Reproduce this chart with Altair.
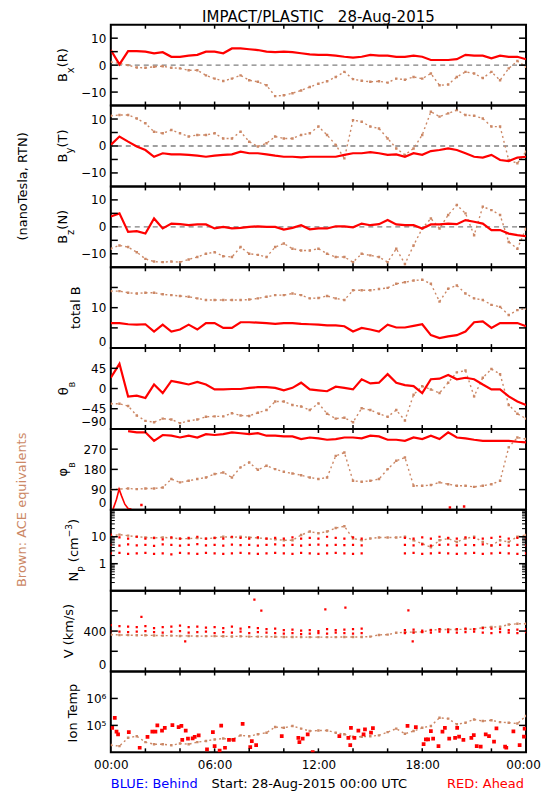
import altair as alt
import pandas as pd

# ---------------- data ----------------
TIME = [0, 0.5, 1, 1.5, 2, 2.5, 3, 3.5, 4, 4.5, 5, 5.5, 6, 6.5, 7, 7.5, 8, 8.5, 9, 9.5,
        10, 10.5, 11, 11.5, 12, 12.5, 13, 13.5, 14, 14.5, 15, 15.5, 16, 16.5, 17, 17.5,
        18, 18.5, 19, 19.5, 20, 20.5, 21, 21.5, 22, 22.5, 23, 23.5, 24]

BX_RED = [5.6, 0.3, 5.2, 5.2, 5.0, 4.4, 4.8, 3.1, 3.1, 3.5, 3.8, 5.0, 5.0, 4.4, 6.2, 6.2, 5.9, 5.6, 5.0, 4.8,
          5.0, 4.8, 4.4, 4.0, 3.8, 3.8, 3.5, 3.1, 2.8, 3.1, 3.8, 3.5, 3.5, 3.1, 3.1, 3.5, 3.1, 1.9, 1.9,
          1.9, 2.2, 3.8, 3.5, 3.5, 2.5, 3.5, 3.1, 3.1, 2.2]
BX_ACE = [1.2, 0.6, 0, -0.9, -1.0, -0.6, -0.4, -1.0, -1.2, -1.9, -1.9, -3.8, -5.0, -5.9, -5.0, -3.8, -5.6,
          -6.2, -7.5, -11.5, -11.2, -10.4, -9.4, -8.1, -6.9, -6.0, -4.4, -2.5, -5.2, -5.8, -6.2, -6.0, -6.5,
          -5.0, -5.4, -4.4, -5.0, -3.1, -7.5, -7.2, -4.4, -2.5, -3.1, -4.8, -2.5, -5.6, -1.2, 1.5, -0.6]

BY_RED = [0.4, 3.5, 1.6, -0.2, -1.5, -4.0, -2.7, -3.1, -3.1, -3.3, -3.6, -4.0, -3.6, -3.3, -3.1, -2.1, -2.7,
          -2.7, -3.1, -3.6, -4.0, -4.0, -4.2, -4.0, -4.0, -4.0, -4.0, -3.3, -2.7, -2.7, -2.3, -2.7, -3.3,
          -3.1, -4.0, -2.7, -3.3, -1.9, -1.5, -0.9, -1.5, -2.7, -4.0, -4.3, -3.3, -5.2, -5.6, -4.3, -4.0]
BY_ACE = [11.2, 11.5, 11.5, 10.2, 8.4, 5.3, 4.7, 5.9, 4.7, 3.5, 4.1, 4.1, 4.7, 2.8, 2.8, 5.3, 1.6, -0.2, 1.0,
          3.5, 2.8, 2.8, 4.1, 4.7, 7.2, 4.1, 0.4, -4.6, 9.6, 9.0, 7.2, 6.5, 2.8, -0.9, -3.3, -0.9, 4.1, 12.7,
          10.9, 12.1, 13.3, 11.5, 11.2, 10.2, 7.2, 7.2, -5.2, -6.4, -2.1]

BZ_RED = [3.8, 5.0, -1.9, -1.6, -2.5, 3.1, -0.6, 1.2, 1.0, 0.6, 0.9, 0.9, -0.6, 0, -0.6, -0.4, 0, 0.2, 0, 0,
          -1.0, -0.4, 0.6, -0.9, -0.6, -0.6, 0.2, 0.2, -0.2, 1.2, 0.6, 1.0, 2.5, 0.9, 0.6, 0.6, -0.6, 0.9,
          0.9, 1.2, 1.0, 2.5, 1.9, 1.2, -1.2, -1.2, -2.5, -3.1, -3.5]
BZ_ACE = [-8.1, -6.9, -7.5, -9.4, -11.9, -12.9, -13.1, -12.9, -13.1, -12.1, -11.2, -10.0, -9.4, -10.9, -11.2,
          -7.5, -10.0, -10.4, -11.2, -7.5, -6.2, -8.1, -8.8, -8.8, -8.1, -10.0, -11.2, -11.2, -13.1, -10.0,
          -10.6, -11.2, -13.1, -8.1, -13.8, -6.9, -0.6, 3.1, -0.6, 4.4, 8.1, 5.0, -3.1, 7.5, 6.2, 4.4, -5.6,
          -8.1, -0.6]

BT_RED = [6.2, 6.2, 5.9, 5.8, 5.9, 4.1, 5.8, 4.1, 4.6, 5.8, 4.6, 6.2, 6.2, 5.0, 5.0, 6.4, 6.4, 6.3, 6.2, 6.0,
          6.2, 6.2, 6.0, 5.9, 5.8, 5.6, 5.6, 5.4, 4.1, 5.0, 4.6, 4.1, 5.8, 5.1, 5.1, 5.5, 5.9, 3.2, 2.5, 2.9,
          3.2, 4.1, 6.4, 6.6, 5.0, 6.2, 6.2, 6.2, 5.4]
BT_ACE = [14.1, 14.1, 13.7, 13.5, 13.7, 13.7, 13.3, 13.1, 12.9, 12.7, 12.3, 11.9, 11.9, 11.9, 11.9, 11.9,
          12.0, 12.3, 12.7, 13.1, 13.1, 13.5, 13.1, 12.3, 12.4, 12.9, 12.3, 11.9, 14.3, 14.3, 14.3, 14.6,
          14.9, 15.9, 16.3, 16.7, 16.9, 15.9, 11.5, 14.7, 15.5, 13.5, 12.3, 11.9, 10.7, 10.2, 8.2, 9.4, 9.8]

TH_RED = [24, 55, -18, -16, -21, 9, -10, 17, 13, 9, 14.5, 9, -2, -2, -1, -1, 1.5, 3, 3, 1.5,
          -4, 1.5, 13, -2, -4, -6, 4, 1.5, -2, 20.6, 11.4, 13, 32, 13, 7.6, 5.3, -10, 20.6, 22, 30, 20.6,
          24, 20.6, 9, -2, -2, -17.5, -29, -36.6]
TH_ACE = [-34, -34, -39, -60, -72, -75, -67, -69, -77, -72, -69, -63, -62, -62, -55, -60, -61, -54, -48, -29,
          -29, -36.6, -40, -48, -33, -56, -67, -65, -75, -44, -48, -56, -63, -48, -71, -13.7, 5, -2, -10, 13,
          36, 40, -17.5, 24, 43.5, 32, -36.6, -56, -67]

PH_RED = [355, None, 350, 345, 345, 307, 333, 330, 322, 330, 322, 337, 333, 337, 345, 341, 337, 341, 330, 330,
          327, 327, 315, 322, 318, 312, 315, 322, 322, 318, 330, 327, 312, 312, 307, 322, 315, 330, 315, 345,
          322, 318, 312, 307, 307, 307, 307, 303, 300]
PH_RED_WRAP_T = [0.13, 0.33, 0.48, 0.62, 0.81, 1.0, 1.19]
PH_RED_WRAP_V = [3, 47, 92, 62, 25, 6, 3]
PH_RED_DOT_T = [1.77, 19.6, 20.42]
PH_RED_DOT_V = [21, 10, 15]
PH_ACE = [89, 92, 95, 92, 95, 95, 99, 137, 122, 129, 137, 144, 159, 166, 144, 189, 211, 178, 196, 181,
          169, 162, 154, 144, 137, 144, 240, 255, 129, 125, 129, 137, 181, 218, 233, 107, 107, 110, 122, 114,
          107, 107, 102, 107, 114, 129, 278, 322, 315]

NP_ACE = [10.5, 12, 11, 10, 9.5, 9, 9.5, 9, 8.5, 8.5, 9, 8.5, 9, 10, 9.5, 10, 9.5, 9, 8.5, 8,
          7.4, 7.4, 11.6, 15.6, 13.5, 15.6, 21, 24.5, 8.6, 7.4, 8.6, 9.4, 9.4, 9.4, 10, 7.4, 5.5, 4.1, 7.4,
          8.6, 6.4, 8.6, 10, 6.4, 4.7, 7.4, 6.4, 10, 11.6]
NP_RED_A = [12, 9.5, 8.5, 10, 8.6, 9, 8, 9.5, 8.6, 9, 10, 8.6, 9, 8.6, 10, 9, 8.6, 9.5, 8.6, 9, 8.6, 9.5,
            8.6, 9, 8.6, 10, 9, 8.6, 9.5, 8.6, None, None, None, None, 9, 8.6, 9.5, 8.6, 10, 9, 8.6, 9.5, 9,
            8.6, 9, 10, 8.6, 9, 8.6]
NP_RED_B = [5, 4.7, 5.2, 4.8, 5, 4.6, 5.2, 5, 4.7, 5, 5.3, 4.8, 5, 4.7, 5.1, 4.9, 5, 4.7, 5, 5.2, 4.8, 5,
            4.7, 5, 5.1, 4.8, 5, 4.9, 5, 4.8, None, None, None, None, 5, 4.8, 5.2, 4.7, 5, 5.1, 4.8, 5, 4.9,
            5.2, 4.8, 5, 4.7, 5, 4.9]
NP_RED_C = [2.4, 2.5, 2.3, 2.4, 2.5, 2.3, 2.4, 2.2, 2.5, 2.4, 2.3, 2.5, 2.4, 2.3, 2.4, 2.5, 2.4, 2.3, 2.4,
            2.5, 2.4, 2.3, 2.5, 2.4, 2.3, 2.4, 2.5, 2.4, 2.3, 2.4, None, None, None, None, 2.4, 2.5, 2.3,
            2.4, 2.5, 2.4, 2.3, 2.4, 2.5, 2.3, 2.4, 2.5, 2.4, 2.3, 2.4]

V_ACE = [365, 362, 360, 358, 358, 357, 355, 355, 352, 352, 350, 350, 350, 348, 347, 348, 345, 345, 345, 343,
         342, 342, 340, 340, 340, 340, 340, 342, 342, 342, 345, 362, 365, 383, 388, 390, 392, 410, 415, 415,
         416, 418, 418, 435, 440, 442, 465, 472, 473]
V_RED_A = [460, 450, 445, 440, 450, 430, 440, 445, 455, 440, 445, 435, 440, 430, 445, 425, 440, 430, 420, 425,
           410, 415, 405, 410, 400, 420, 410, 415, 420, 425, None, None, None, None, 410, 415, 405, 410, 420,
           415, 420, 425, 420, 430, 425, 420, 410, 415, 420]
V_RED_B = [400, 395, 390, 395, 400, 390, 385, 395, 400, 385, 390, 395, 380, 390, 385, 395, 380, 390, 385, 380,
           375, 380, 370, 375, 380, 375, 385, 380, 375, 380, None, None, None, None, 380, 385, 390, 385, 395,
           390, 385, 390, 395, 385, 380, 390, 385, 380, 390]
V_RED_OUT_T = [1.77, 4.3, 8.3, 8.7, 12.4, 13.56, 17.2, 17.45]
V_RED_OUT_V = [540, 298, 711, 602, 615, 631, 605, 298]

TI_ACE = [1.86e4, 1.7e4, 3.47e4, 3.98e4, 2.4e4, 2.0e4, 2.0e4, 1.82e4, 2.14e4, 2.0e4, 2.4e4, 2.63e4, 3.02e4,
          3.24e4, 3.02e4, 4.27e4, 3.98e4, 4.68e4, 5.37e4, 8.71e4,
          8.13e4, 9.55e4, 7.59e4, 6.17e4, 6.46e4, 6.46e4, 5.37e4, 4.68e4, 3.8e4, 3.8e4, 3.98e4, 4.27e4,
          5.62e4, 7.59e4, 4.9e4, 6.17e4, 8.13e4, 9.55e4, 1.91e5, 1.78e5, 1.10e5, 1.26e5, 1.66e5, 1.45e5,
          1.55e5, 1.32e5, 1.26e5, 1.17e5, 2.24e5]
TI_RED_T = [0.08, 0.23, 0.33, 0.42, 1.04, 1.67, 2.12, 2.40, 2.58, 2.69, 2.96, 3.12, 3.56, 3.92, 4.08, 4.13,
            4.33, 4.46, 4.73, 4.85, 5.08, 5.56, 5.90, 6.00, 6.29, 6.38, 6.60, 6.83, 7.10, 7.62, 8.06, 8.15,
            8.40, 9.88, 10.84, 10.90, 11.09, 11.38, 11.67, 13.21, 13.73, 13.88, 13.84, 14.08, 14.31, 14.61,
            14.69, 15.04, 15.15, 17.15, 17.63, 18.08, 18.21, 18.34, 18.50, 18.63, 18.94, 19.17, 19.31, 19.56,
            19.90, 20.02, 20.13, 20.38, 20.84, 20.98, 21.15, 21.38, 21.67, 21.86, 22.15, 22.29, 22.79, 22.86,
            23.27, 23.63, 23.88, 23.92]
TI_RED_V = [8.13e4, 1.91e5, 5.89e4, 4.68e4, 5.62e4, 1.48e4, 3.72e4, 5.89e4, 5.89e4, 1.0e5, 6.46e4, 8.13e4,
            1.02e5, 8.71e4, 9.55e4, 2.88e4, 6.46e4, 3.24e4, 3.31e4, 3.72e4, 4.27e4, 1.29e4, 5.62e4, 1.70e4,
            1.17e4, 9.77e4, 1.48e4, 2.88e4, 2.88e4, 1.15e5, 1.55e4, 2.63e4, 1.86e4, 3.98e4, 3.47e4, 2.4e4,
            3.24e4, 4.68e4, 1.02e4, 3.98e4, 3.47e4, 8.13e4, 1.86e4, 3.47e4, 6.46e4, 4.68e4, 7.08e4, 5.37e4,
            7.94e4, 9.55e4, 8.71e4, 2.0e4, 3.02e4, 3.02e4, 6.17e4, 3.24e4, 1.70e4, 5.89e4, 8.13e4, 3.24e4,
            3.47e4, 8.13e4, 3.8e4, 2.88e4, 3.47e4, 4.37e4, 1.70e4, 1.62e4, 4.68e4, 3.98e4, 2.51e4, 7.76e4,
            1.62e4, 1.48e4, 6.03e4, 1.86e4, 3.8e4, 7.59e4]

HOUR_TICKS = [2, 4, 6, 8, 10, 12, 14, 16, 18, 20, 22]
B_TICKS = [-10, -5, 0, 5, 10]
NP_MINOR = [0.2, 0.3, 0.4, 0.5, 0.6, 0.7, 0.8, 0.9, 2, 3, 4, 5, 6, 7, 8, 9, 20, 30, 40, 50, 60, 70, 80, 90]

# ---------------- styling ----------------
W, H = 416, 81
RED = "#ff0000"
BROWN = "#cc8866"
FONT = "DejaVu Sans"
CW = {'B': .686, 'x': .592, 'y': .592, 'z': .525, '(': .390, ')': .390, 'R': .695, 'T': .611, 'N': .748,
      'P': .603, ' ': .318, 't': .392, 'o': .612, 'a': .613, 'l': .278, 'θ': .602, 'φ': .660, 'c': .550,
      'm': .974, '−': .838, '3': .636, 'V': .684, 'k': .579, '/': .337, 's': .521, 'I': .295, 'n': .634,
      'e': .615, 'p': .635}


def tw(s, size):
    return sum(CW.get(ch, 0.62) for ch in s) * size


def text_layer(txt, x, y, size=13, angle=0, align="left", color="black", baseline="alphabetic"):
    return alt.Chart(pd.DataFrame({"d": [0]})).mark_text(
        text=txt, angle=angle, align=align, baseline=baseline, font=FONT, fontSize=size, color=color
    ).encode(x=alt.value(x), y=alt.value(y))


def rot_title(segs, base_x):
    total = sum(tw(s, sz) for s, sz, dx in segs)
    y = H / 2 + total / 2
    out = []
    for s, sz, dx in segs:
        lead = len(s) - len(s.lstrip())
        y -= tw(" " * lead, sz)
        body = s.strip()
        out.append(text_layer(body, base_x + dx, y, size=sz, angle=270))
        y -= tw(body, sz)
    return out


def panel(scale, labels, ticks, ace, red_layers_fn, title, minor=None, zero=False, xaxis=None,
          label_expr=None, label_format=None, extras=()):
    ax_kw = dict(values=labels, ticks=False, tickSize=0, domain=False, grid=False, labelFont=FONT,
                 labelFontSize=12, labelColor="black", labelPadding=5, labelFlush=True, title=None)
    if label_expr:
        ax_kw["labelExpr"] = label_expr
    if label_format:
        ax_kw["format"] = label_format
    yaxis = alt.Axis(**ax_kw)

    def yenc():
        return alt.Y("v:Q", scale=scale, axis=yaxis)

    def xenc():
        return alt.X("t:Q", scale=alt.Scale(domain=[0, 24], nice=False, zero=False), axis=xaxis)

    layers = []
    if zero:
        layers.append(alt.Chart(pd.DataFrame({"v": [0]})).mark_rule(
            color="#808080", strokeWidth=1.3, strokeDash=[5, 4]).encode(y=yenc()))
    ace_df = pd.DataFrame({"t": TIME, "v": ace})
    layers.append(alt.Chart(ace_df).mark_line(
        color=BROWN, strokeWidth=1.4, strokeDash=[2, 3], clip=True).encode(x=xenc(), y=yenc()))
    layers.append(alt.Chart(ace_df).mark_square(
        color=BROWN, size=6, opacity=1, clip=True).encode(x=xenc(), y=yenc()))
    layers += red_layers_fn(xenc, yenc)

    tdf = pd.DataFrame({"v": ticks})
    layers.append(alt.Chart(tdf).mark_rule(color="black", strokeWidth=1.5).encode(
        y=yenc(), x=alt.value(0), x2=alt.value(7)))
    layers.append(alt.Chart(tdf).mark_rule(color="black", strokeWidth=1.5).encode(
        y=yenc(), x=alt.value(W - 7), x2=alt.value(W)))
    if minor:
        mdf = pd.DataFrame({"v": minor})
        layers.append(alt.Chart(mdf).mark_rule(color="black", strokeWidth=1).encode(
            y=yenc(), x=alt.value(0), x2=alt.value(4)))
        layers.append(alt.Chart(mdf).mark_rule(color="black", strokeWidth=1).encode(
            y=yenc(), x=alt.value(W - 4), x2=alt.value(W)))
    hdf = pd.DataFrame({"t": HOUR_TICKS})
    layers.append(alt.Chart(hdf).mark_rule(color="black", strokeWidth=1.5).encode(
        x=xenc(), y=alt.value(0), y2=alt.value(4)))
    layers.append(alt.Chart(hdf).mark_rule(color="black", strokeWidth=1.5).encode(
        x=xenc(), y=alt.value(H - 4), y2=alt.value(H)))
    layers += title
    layers += list(extras)
    return alt.layer(*layers).properties(width=W, height=H)


def red_line(vals, width=2.2):
    def fn(xenc, yenc):
        df = pd.DataFrame({"t": TIME, "v": vals})
        return [alt.Chart(df).mark_line(color=RED, strokeWidth=width, clip=True,
                                        invalid="break-paths-filter-domains").encode(x=xenc(), y=yenc())]
    return fn


def red_phi(xenc, yenc):
    main = pd.DataFrame({"t": TIME, "v": PH_RED})
    wrap = pd.DataFrame({"t": PH_RED_WRAP_T, "v": PH_RED_WRAP_V})
    dots = pd.DataFrame({"t": PH_RED_DOT_T, "v": PH_RED_DOT_V})
    return [
        alt.Chart(main).mark_line(color=RED, strokeWidth=2.2, clip=True,
                                  invalid="break-paths-filter-domains").encode(x=xenc(), y=yenc()),
        alt.Chart(wrap).mark_line(color=RED, strokeWidth=1.6, clip=True).encode(x=xenc(), y=yenc()),
        alt.Chart(dots).mark_square(color=RED, size=6, opacity=1, clip=True).encode(x=xenc(), y=yenc()),
    ]


def red_np(xenc, yenc):
    df = pd.DataFrame({"t": TIME * 3, "v": NP_RED_A + NP_RED_B + NP_RED_C}).dropna()
    return [alt.Chart(df).mark_square(color=RED, size=5, opacity=1, clip=True).encode(x=xenc(), y=yenc())]


def red_v(xenc, yenc):
    df = pd.DataFrame({"t": TIME * 2 + V_RED_OUT_T, "v": V_RED_A + V_RED_B + V_RED_OUT_V}).dropna()
    return [alt.Chart(df).mark_square(color=RED, size=5, opacity=1, clip=True).encode(x=xenc(), y=yenc())]


def red_ti(xenc, yenc):
    df = pd.DataFrame({"t": TI_RED_T, "v": TI_RED_V})
    return [alt.Chart(df).mark_square(color=RED, size=14, opacity=1, clip=True).encode(x=xenc(), y=yenc())]


def lin(lo, hi):
    return alt.Scale(domain=[lo, hi], nice=False, zero=False)


x_axis = alt.Axis(values=[0, 6, 12, 18, 24], ticks=False, tickSize=0, domain=False, grid=False,
                  labelFont=FONT, labelFontSize=12, labelColor="black", labelPadding=7, labelFlush=False,
                  title=None,
                  labelOffset={"condition": {"test": "datum.value == 24", "value": -3}, "value": 0},
                  labelExpr="datum.value == 24 ? '00:00' : (datum.value < 10 ? '0' : '') + datum.value + ':00'")

p1 = panel(lin(-15, 15), [-10, 0, 10], B_TICKS, BX_ACE, red_line(BX_RED),
           rot_title([("B", 13, 0), ("x", 10, 7), ("(R)", 13, 0)], -44), zero=True,
           extras=[text_layer("IMPACT/PLASTIC\u00a0\u00a0\u00a028-Aug-2015", W / 2, -3, size=15,
                              align="center")])
p2 = panel(lin(-15, 15), [-10, 0, 10], B_TICKS, BY_ACE, red_line(BY_RED),
           rot_title([("B", 13, 0), ("y", 10, 6), ("(T)", 13, 0)], -44), zero=True,
           extras=[text_layer("(nanoTesla, RTN)", -84, H, size=13, angle=270, align="center")])
p3 = panel(lin(-15, 15), [-10, 0, 10], B_TICKS, BZ_ACE, red_line(BZ_RED),
           rot_title([("B", 13, 0), ("z", 10, 7), ("(N)", 13, 0)], -44), zero=True)
p4 = panel(lin(0, 20), [0, 10], [5, 10, 15], BT_ACE, red_line(BT_RED),
           rot_title([("total B", 13, 0)], -31))
p5 = panel(lin(-90, 90), [-90, -45, 0, 45], [-45, 0, 45], TH_ACE, red_line(TH_RED),
           rot_title([("θ", 13, 0), ("B", 8, 7)], -43))
p6 = panel(lin(0, 360), [0, 90, 180, 270], [90, 180, 270], PH_ACE, red_phi,
           rot_title([("φ", 13, 0), ("B", 8, 8)], -44),
           extras=[text_layer("Brown: ACE equivalents", -85, H, size=13, angle=270, align="center",
                              color=BROWN)])
p7 = panel(alt.Scale(type="log", domain=[0.1, 100], nice=False), [1, 10], [1, 10], NP_ACE, red_np,
           rot_title([("N", 13, 0), ("P", 9, 7), (" (cm", 13, 0), ("−3", 9, -6), (")", 13, 0)], -33),
           minor=NP_MINOR, label_format="~g")
p8 = panel(lin(0, 800), [0, 400], [200, 400, 600], V_ACE, red_v,
           rot_title([("V (km/s)", 13, 0)], -38))
p9 = panel(alt.Scale(type="log", domain=[1e4, 1e7], nice=False), [1e5, 1e6], [1e5, 1e6], TI_ACE, red_ti,
           rot_title([("Ion Temp", 13, 0)], -34), xaxis=x_axis,
           label_expr="'10' + (datum.value >= 1e6 ? '⁶' : '⁵')",
           extras=[text_layer("BLUE: Behind", 0, 117, size=13, color="#0000ff"),
                   text_layer("Start: 28-Aug-2015 00:00 UTC", 101, 117, size=13),
                   text_layer("RED: Ahead", W - 2, 117, size=13, align="right", color=RED)])

chart = alt.vconcat(p1, p2, p3, p4, p5, p6, p7, p8, p9, spacing=0, bounds="flush").configure_view(
    stroke="black", strokeWidth=2).properties(
    padding={"left": 7, "top": 0, "right": 0, "bottom": 5}, background="white")

chart.save("out.html", embed_options={"renderer": "svg", "actions": False})
